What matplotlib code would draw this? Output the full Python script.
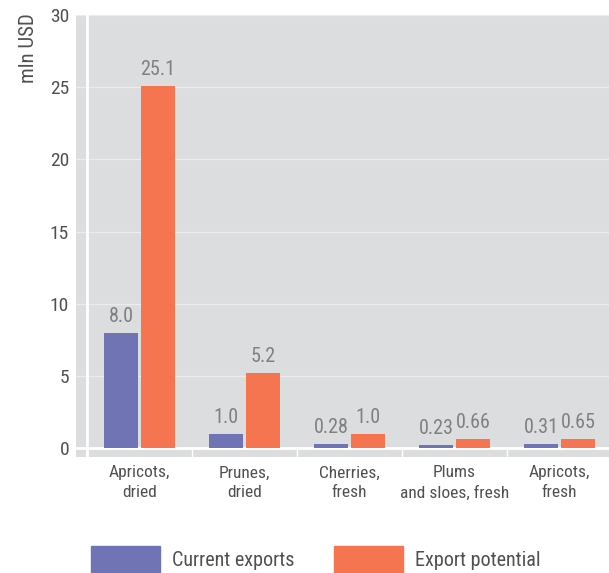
import matplotlib
matplotlib.use("Agg")
import matplotlib.pyplot as plt
from matplotlib.patches import Rectangle
import numpy as np
import logging

categories = ["Apricots,\ndried", "Prunes,\ndried", "Cherries,\nfresh", "Plums\nand sloes, fresh", "Apricots,\nfresh"]
current = [8.0, 1.0, 0.28, 0.23, 0.31]
potential = [25.1, 5.2, 1.0, 0.66, 0.65]
current_labels = ["8.0", "1.0", "0.28", "0.23", "0.31"]
potential_labels = ["25.1", "5.2", "1.0", "0.66", "0.65"]
yticks = [0, 5, 10, 15, 20, 25, 30]
series_names = ["Current exports", "Export potential"]

BLUE = "#7074b5"
ORANGE = "#f4754f"
BG = "#dcdddf"
FONT = ["Roboto Condensed", "Barlow Semi Condensed", "Barlow Condensed", "Fira Sans Condensed",
        "PT Sans Narrow", "Archivo Narrow", "DejaVu Sans"]
plt.rcParams["font.family"] = FONT
logging.getLogger("matplotlib.font_manager").setLevel(logging.ERROR)

fig = plt.figure(figsize=(6.09, 5.73), dpi=100)
ax = fig.add_axes([76/609, (573-457)/573, 1 - 76/609, (457-15)/573])
ax.set_facecolor(BG)

x = np.arange(len(categories))
w = 0.324
off = 0.176
ax.bar(x - off, current, w, color=BLUE, zorder=3)
ax.bar(x + off, potential, w, color=ORANGE, zorder=3)

for xi, v, t in zip(x - off, current, current_labels):
    ax.annotate(t, (xi, v), xytext=(0, 5), textcoords="offset points",
                ha="center", va="bottom", color="#808080", fontsize=14.5, zorder=4)
for xi, v, t in zip(x + off, potential, potential_labels):
    ax.annotate(t, (xi, v), xytext=(0, 5), textcoords="offset points",
                ha="center", va="bottom", color="#808080", fontsize=14.5, zorder=4)

ax.set_xlim(-0.605, 4.471)
ax.set_ylim(-0.62, 30)

for yv in yticks[1:]:
    ax.axhline(yv, color="#ececec", lw=1, zorder=1)
ax.axhline(0, color="white", lw=2, zorder=2)
ax.axvline(-0.5, color="white", lw=2, zorder=2)
for s in x + 0.5:
    ax.plot([s, s], [-0.62, 0], color="white", lw=1, zorder=2)

for sp in ax.spines.values():
    sp.set_visible(False)

ax.set_yticks(yticks)
ax.set_yticklabels([str(t) for t in yticks])
ax.set_xticks(x)
ax.set_xticklabels(categories, linespacing=1.4)
ax.tick_params(axis="y", length=0, labelsize=14, labelcolor="#505050", pad=5)
ax.tick_params(axis="x", length=0, labelsize=12.5, labelcolor="#505050", pad=6)
ax.set_ylabel("mln USD", fontsize=15, color="#505050")
ax.yaxis.set_label_coords(-0.072, 0.925)

# legend
for (x0, x1, col, name) in [(91, 160, BLUE, series_names[0]), (334, 403, ORANGE, series_names[1])]:
    fig.patches.append(Rectangle((x0/609, 0), (x1-x0)/609, (573-546)/573,
                                 transform=fig.transFigure, color=col))
    fig.text((x1 + 12)/609, (573-560)/573, name, fontsize=14.5, color="#505050",
             ha="left", va="center")

fig.savefig("out.png", dpi=100)
